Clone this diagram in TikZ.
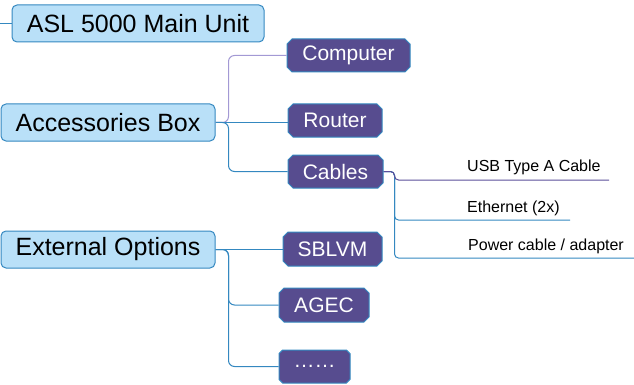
\documentclass[tikz,border=0pt]{standalone}
\usepackage{fontspec}
\setmainfont{Liberation Sans}
\usetikzlibrary{shapes.misc}
\definecolor{boxfill}{RGB}{185,224,248}
\definecolor{boxline}{RGB}{52,136,192}
\definecolor{purplefill}{RGB}{87,76,143}
\definecolor{lavender}{RGB}{163,153,212}
\definecolor{usbpurple}{RGB}{90,78,154}
\begin{document}
\begin{tikzpicture}[x=1pt,y=-1pt,
  topic/.style={draw=boxline, fill=boxfill, line width=1pt, rounded corners=5pt,
    inner sep=0pt, minimum height=37pt, font=\fontsize{25}{30}\selectfont, text=black},
  sub/.style={chamfered rectangle, chamfered rectangle xsep=2.5pt, chamfered rectangle ysep=2.5pt,
    draw=boxline, fill=purplefill, text=white, line width=1pt, inner sep=0pt,
    minimum height=33pt, font=\fontsize{21}{25}\selectfont},
  leaf/.style={anchor=base west, inner sep=0pt, font=\fontsize{16}{19}\selectfont},
  link/.style={draw=boxline, line width=1pt, rounded corners=6pt}]
\useasboundingbox (0,0) rectangle (634,385);

\node[topic, minimum width=252pt] (main) at (138,23.5) {ASL 5000 Main Unit};
\node[topic, minimum width=214pt] (acc) at (108,122.5) {Accessories Box};
\node[topic, minimum width=214pt] (ext) at (108,249.5) {External Options};

\node[sub, minimum width=123pt] (comp) at (348.5,55.5) {Computer};
\node[sub, minimum width=94pt] (router) at (335,120.5) {Router};
\node[sub, minimum width=95pt] (cables) at (335.5,171.5) {Cables};
\node[sub, minimum width=99pt, minimum height=34pt] (sblvm) at (332.5,249) {SBLVM};
\node[sub, minimum width=90pt, minimum height=34pt] (agec) at (324,305) {AGEC};
\node[sub, minimum width=71pt] (dots) at (314.5,366.5) {……};

\node[leaf] (usb) at (467,171) {USB Type A Cable};
\node[leaf] (eth) at (467,212) {Ethernet (2x)};
\node[leaf] (pow) at (468,250) {Power cable / adapter};

\coordinate (mstart) at (0,23.5);
\coordinate (usbend) at (609,180);
\coordinate (ethend) at (570,220);
\coordinate (powend) at (634,258);

\draw[link] (mstart) -- (main.west);

\draw[link, draw=lavender] (acc.east) -- ++(13,0) |- (comp.west);
\draw[link] (acc.east) -- (acc.east -| router.west);
\draw[link] (acc.east) -- ++(13,0) |- (cables.west);

\draw[link] (ext.east) -- (ext.east -| sblvm.west);
\draw[link] (ext.east) -- ++(13,0) |- (agec.west);
\draw[link] (ext.east) -- ++(13,0) |- (dots.west);

\draw[link, rounded corners=4pt] (cables.east) -- ++(11,0) |- (powend);
\draw[link, rounded corners=4pt] (cables.east) -- ++(11,0) |- (ethend);
\draw[link, draw=usbpurple, rounded corners=4pt] (cables.east) -- ++(11,0) |- (usbend);
\end{tikzpicture}
\end{document}
